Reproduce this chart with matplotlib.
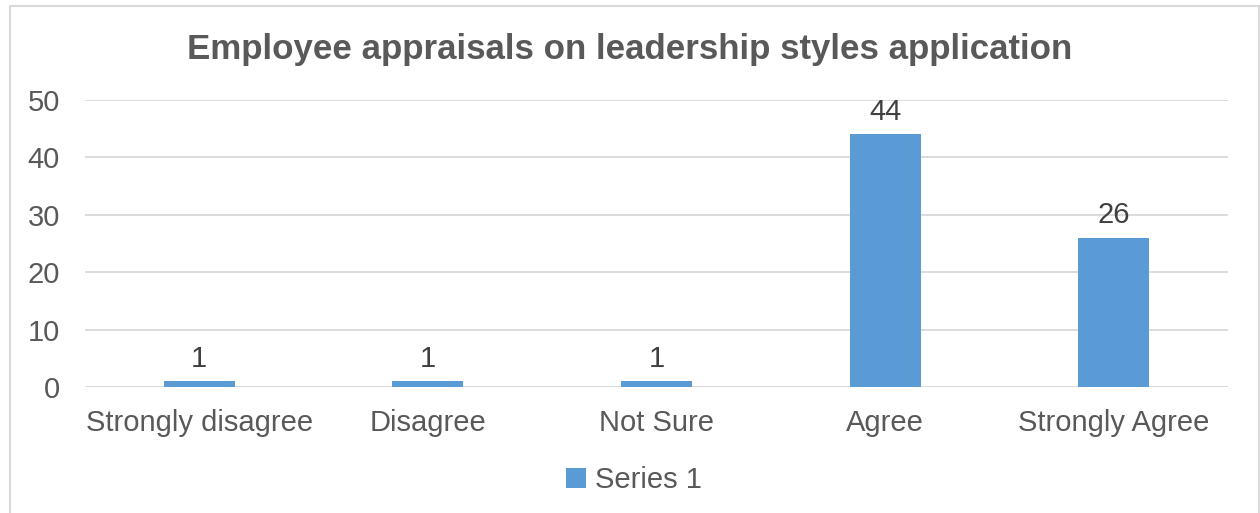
import matplotlib
matplotlib.use("Agg")
import matplotlib.pyplot as plt
from matplotlib.patches import Rectangle

categories = ["Strongly disagree", "Disagree", "Not Sure", "Agree", "Strongly Agree"]
values = [1, 1, 1, 44, 26]
series_name = "Series 1"
yticks = [0, 10, 20, 30, 40, 50]
title = "Employee appraisals on leadership styles application"

plt.rcParams['font.family'] = ['Liberation Sans', 'DejaVu Sans']
TXT = "#595959"
BAR = "#5B9BD5"
GRID = "#D9D9D9"

fig = plt.figure(figsize=(12.6, 5.13), dpi=100)
fig.patches.append(Rectangle((10/1260, -0.05), 1249/1260, 1.05 - 6/513, transform=fig.transFigure,
                             fill=False, edgecolor=GRID, linewidth=1.5))
ax = fig.add_axes([85/1260, (513-387)/513, (1228-85)/1260, 287/513])
x = list(range(len(categories)))
bars = ax.bar(x, values, width=0.31, color=BAR, label=series_name, zorder=3)
ax.set_xlim(-0.5, len(categories) - 0.5)
ax.set_ylim(0, 50)
ax.set_yticks(yticks)
ax.set_xticks(x)
ax.set_xticklabels(categories)
ax.tick_params(axis='both', length=0, labelsize=21, colors=TXT)
ax.tick_params(axis='x', pad=16)
ax.tick_params(axis='y', pad=18)
ax.grid(axis='y', color=GRID, linewidth=1.3, zorder=0)
for s in ax.spines.values():
    s.set_visible(False)
ax.axhline(0, color=GRID, linewidth=1.3, zorder=2)
for b, v in zip(bars, values):
    ax.annotate(str(v), (b.get_x() + b.get_width()/2, v), xytext=(0, 6),
                textcoords='offset points', ha='center', va='bottom', fontsize=21, color="#404040")
fig.text(0.5, 1 - 49/513, title, ha='center', va='center', fontsize=25.1, fontweight='bold', color=TXT)
leg = fig.legend(loc='center', bbox_to_anchor=(0.503, 1 - 480/513), frameon=False, fontsize=21,
                 handlelength=0.7, handleheight=0.7, handletextpad=0.3, labelcolor=TXT)
fig.savefig("out.png", dpi=100)
